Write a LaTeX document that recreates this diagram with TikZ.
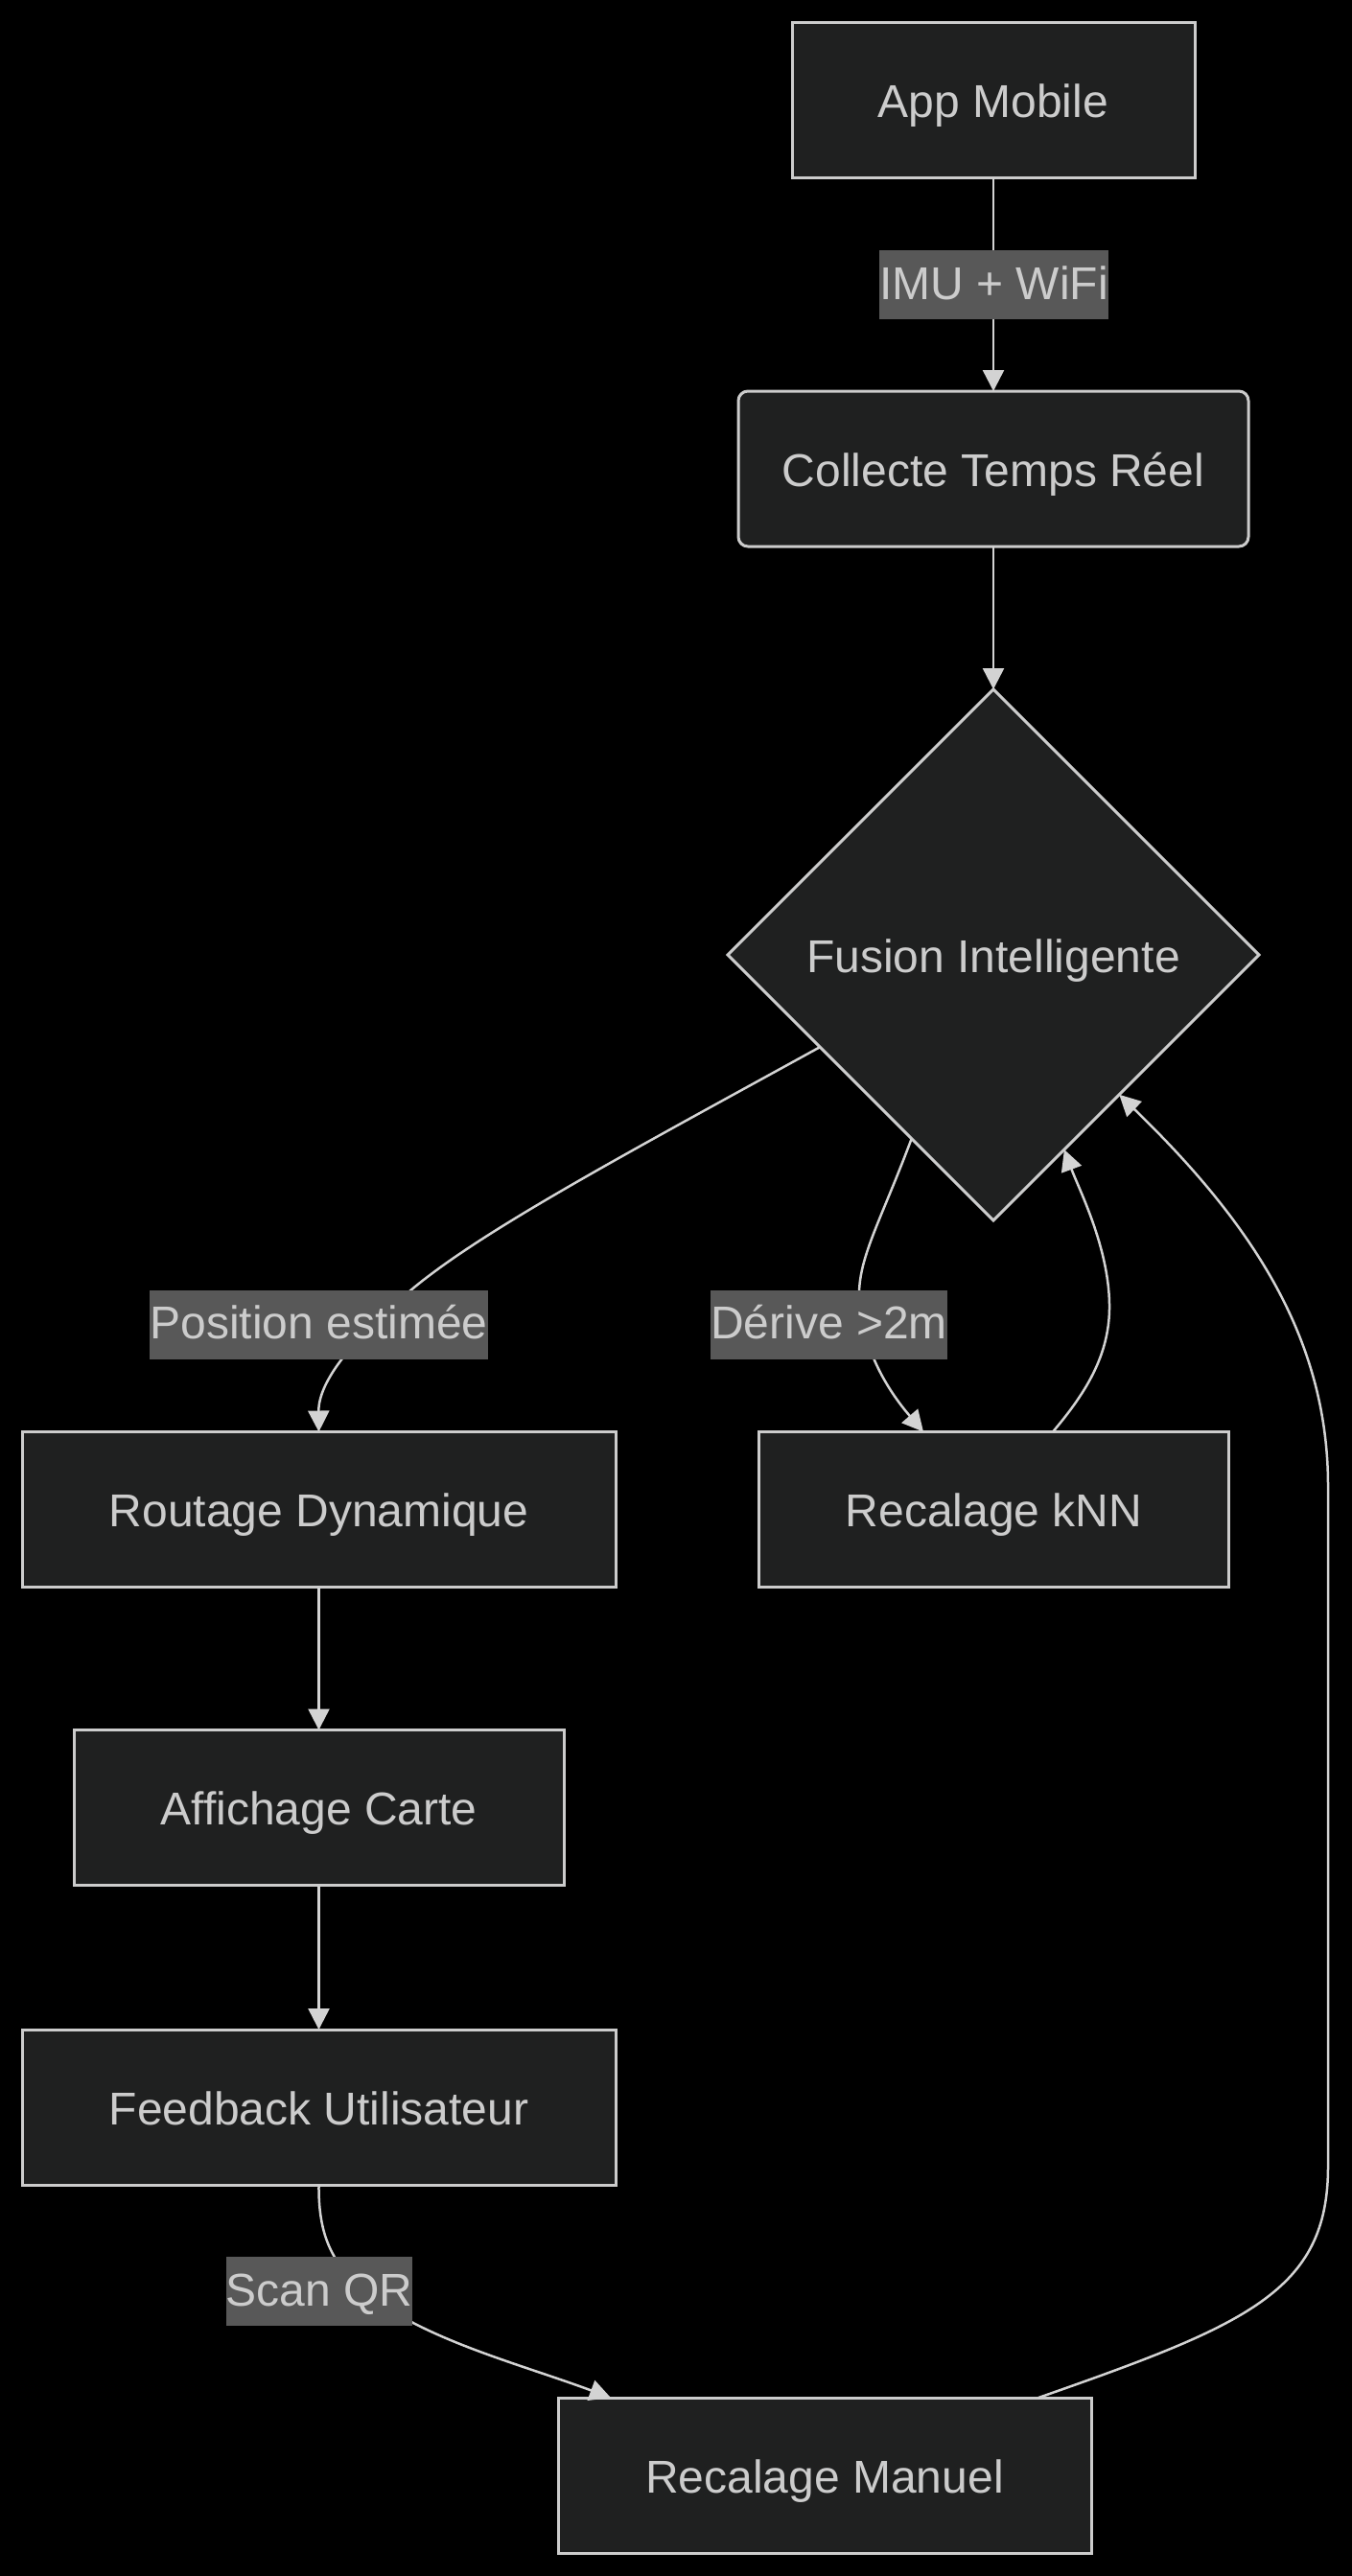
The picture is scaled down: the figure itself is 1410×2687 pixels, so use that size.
\documentclass[tikz,border=0pt]{standalone}
\usepackage{fontspec}
\setmainfont{Liberation Sans}
\usetikzlibrary{arrows.meta,shapes.geometric}
\definecolor{nodefill}{HTML}{1F2020}
\definecolor{nodeline}{HTML}{CCCCCC}
\definecolor{txt}{HTML}{CCCCCC}
\definecolor{lblbg}{HTML}{585858}
\definecolor{edgec}{HTML}{D3D3D3}
\begin{document}
\begin{tikzpicture}[x=1pt,y=-1pt,
  box/.style={draw=nodeline, fill=nodefill, line width=3pt, minimum height=162pt,
    text=txt, font=\fontsize{48}{58}\selectfont, inner sep=0pt, outer sep=0pt,
    text height=46pt, text depth=10pt},
  lbl/.style={fill=lblbg, text=txt, font=\fontsize{48}{58}\selectfont,
    inner xsep=0pt, inner ysep=0pt, minimum height=72pt,
    text height=43pt, text depth=13pt},
  edge/.style={draw=edgec, line width=2.5pt},
  arr/.style={edge, -{Triangle[length=22pt,width=22pt]}}
]
\fill[black] (0,0) rectangle (1410,2687);
\useasboundingbox (0,0) rectangle (1410,2687);

\node[box, minimum width=420pt] (app) at (1036,104.5) {App Mobile};
\node[box, minimum width=532pt, rounded corners=10pt] (col) at (1036,489) {Collecte Temps Réel};
\node[box, shape=diamond, aspect=1, minimum width=554pt, minimum height=554pt] (fus) at (1036,996) {Fusion Intelligente};
\node[box, minimum width=619pt] (rou) at (332.5,1574.5) {Routage Dynamique};
\node[box, minimum width=490pt] (knn) at (1036.5,1574.5) {Recalage kNN};
\node[box, minimum width=511pt] (aff) at (332.5,1885.5) {Affichage Carte};
\node[box, minimum width=619pt] (fb) at (332.5,2198) {Feedback Utilisateur};
\node[box, minimum width=556pt] (man) at (860,2582) {Recalage Manuel};

\draw[arr] (app.south) -- (col.north);
\draw[arr] (col.south) -- (fus.north);
\draw[arr] (fus.208.8) .. controls (650,1205) and (500,1285) .. (427,1347)
  .. controls (370,1395) and (332,1440) .. (rou.north);
\draw[arr] (fus.246.5) .. controls (920,1270) and (896,1310) .. (896,1350)
  .. controls (898,1410) and (930,1455) .. ([xshift=-73.5pt]knn.north);
\draw[arr] ([xshift=61.5pt]knn.north) .. controls (1135,1450) and (1158,1410) .. (1157,1360)
  .. controls (1156,1300) and (1125,1240) .. (fus.290.5);
\draw[arr] ([xshift=223pt]man.north) .. controls (1300,2425) and (1385,2390) .. (1385,2260)
  -- (1385,1550) .. controls (1385,1400) and (1310,1280) .. (fus.312.4);
\draw[arr] (rou.south) -- (aff.north);
\draw[arr] (aff.south) -- (fb.north);
\draw[arr] (fb.south) .. controls (332,2330) and (345,2360) .. (380,2390)
  .. controls (440,2440) and (540,2465) .. ([xshift=-223pt]man.north);

\node[lbl] (l1) at (1036.5,297) {IMU + WiFi};
\node[lbl] (l2) at (332.5,1381.5) {Position estimée};
\node[lbl] (l3) at (864.5,1381.5) {Dérive >2m};
\node[lbl] (l4) at (333,2390) {Scan QR};
\end{tikzpicture}
\end{document}
